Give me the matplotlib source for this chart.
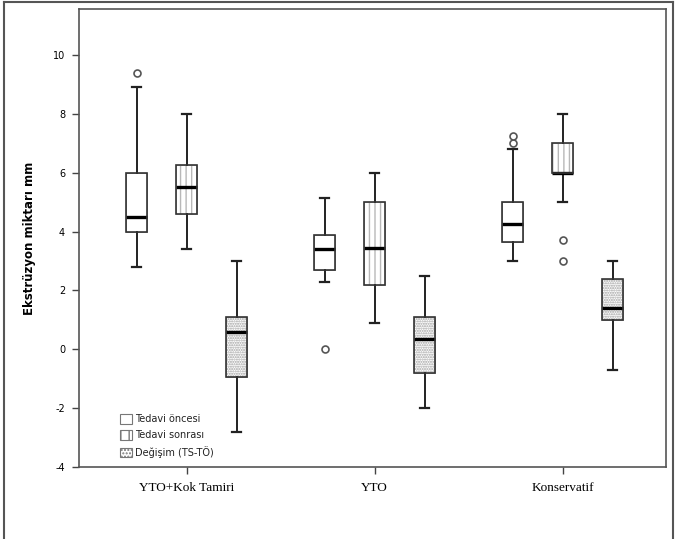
import matplotlib
matplotlib.use("Agg")
import matplotlib.pyplot as plt
from matplotlib.patches import Patch, PathPatch
from matplotlib.lines import Line2D
import numpy as np

groups = ["YTO+Kok Tamiri", "YTO", "Konservatif"]
series = ["Tedavi öncesi", "Tedavi sonrası", "Değişim (TS-TÖ)"]

# box stats: [whislo, q1, med, q3, whishi]
once = [[2.8, 4.0, 4.5, 6.0, 8.9], [2.3, 2.7, 3.4, 3.88, 5.15], [3.0, 3.65, 4.25, 5.0, 6.8]]
sonra = [[3.4, 4.6, 5.5, 6.25, 8.0], [0.9, 2.2, 3.45, 5.0, 6.0], [5.0, 6.0, 6.0, 7.0, 8.0]]
degisim = [[-2.8, -0.95, 0.6, 1.1, 3.0], [-2.0, -0.8, 0.35, 1.1, 2.5], [-0.7, 1.0, 1.4, 2.4, 3.0]]

once_out = [[9.4], [0.0], [7.0, 7.25]]
sonra_out = [[], [], [3.7, 3.0]]
degisim_out = [[], [], []]

yticks = [-4, -2, 0, 2, 4, 6, 8, 10]

hatches = ["", "|||", "......."]
hatch_col = ["#888888", "#b8b8b8", "#a0a0a0"]


def make_stats(vals, outs):
    res = []
    for v, o in zip(vals, outs):
        res.append(dict(whislo=v[0], q1=v[1], med=v[2], q3=v[3], whishi=v[4], fliers=o))
    return res


fig = plt.figure(figsize=(6.78, 5.39), dpi=100)
ax = fig.add_axes([79 / 678, 1 - 467 / 539, 587 / 678, 458 / 539])

x = np.arange(len(groups))
offsets = [-0.266, 0.0, 0.266]
all_data = [(once, once_out), (sonra, sonra_out), (degisim, degisim_out)]

for i, (vals, outs) in enumerate(all_data):
    stats = make_stats(vals, outs)
    bp = ax.bxp(stats, positions=x + offsets[i], widths=0.108, patch_artist=True,
                boxprops=dict(facecolor="white", edgecolor=hatch_col[i], linewidth=0.6),
                medianprops=dict(color="black", linewidth=2.4),
                whiskerprops=dict(color="#222222", linewidth=1.4),
                capprops=dict(color="#222222", linewidth=1.6),
                flierprops=dict(marker="o", markersize=5, markerfacecolor="white",
                                markeredgecolor="#555555", markeredgewidth=1.2),
                capwidths=0.05)
    for b in bp["boxes"]:
        b.set_hatch(hatches[i])
        ax.add_patch(PathPatch(b.get_path(), fill=False, edgecolor="#333333",
                               linewidth=1.2, zorder=b.get_zorder() + 0.1))

ax.set_xlim(-0.572, 2.55)
ax.set_ylim(-4, 11.56)
ax.set_xticks(x)
ax.set_xticklabels(groups, family="Liberation Serif", fontsize=9.5)
ax.set_yticks(yticks)
ax.set_yticklabels([str(t) for t in yticks], fontsize=7)
ax.tick_params(axis="y", length=5, width=1, color="#444444", pad=5)
ax.tick_params(axis="x", length=5, width=1, color="#444444", pad=6)
ax.set_ylabel("Ekstrüzyon miktarı mm", fontsize=8.5, fontweight="bold", labelpad=12)

for s in ax.spines.values():
    s.set_color("#555555")
    s.set_linewidth(1.2)

handles = [Patch(facecolor="white", edgecolor="#777777", hatch=h, linewidth=0.8)
           for h in ["", "||", "....."]]
leg = ax.legend(handles, series, loc="upper left", bbox_to_anchor=(0.07, 0.115), frameon=False,
                borderpad=0, borderaxespad=0, handlelength=1.2, handleheight=1.1,
                handletextpad=0.3, labelspacing=0.6, prop=dict(family="DejaVu Sans", size=7))
for t in leg.get_texts():
    t.set_color("#222222")

# outer frame of the picture
for xs, ys in [([4 / 678, 4 / 678], [0, 1 - 2 / 539]),
               ([4 / 678, 673 / 678], [1 - 2 / 539, 1 - 2 / 539]),
               ([673 / 678, 673 / 678], [0, 1 - 2 / 539])]:
    fig.add_artist(Line2D(xs, ys, color="#555555", linewidth=1.5))

fig.savefig("out.png", dpi=100)
